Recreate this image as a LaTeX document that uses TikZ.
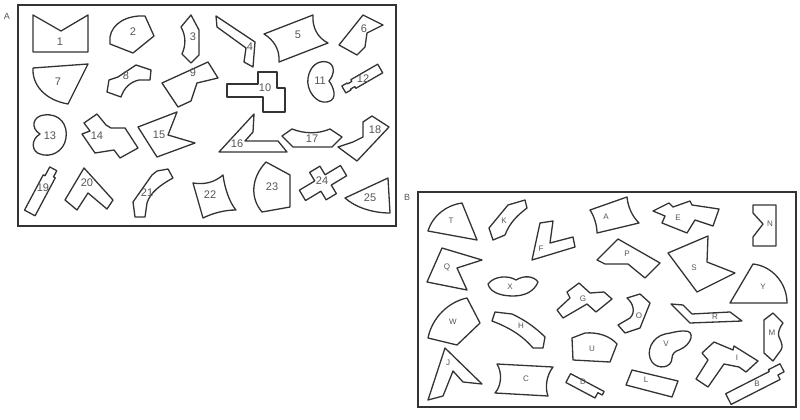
\documentclass[tikz,border=0pt]{standalone}
\usepackage{fontspec}
\setmainfont{Liberation Sans}
\definecolor{cInk}{HTML}{333333}
\definecolor{cLabel}{HTML}{555555}
\begin{document}
\begin{tikzpicture}[x=1pt,y=-1pt,
    frame/.style={draw=cInk,line width=2.2pt},
    piece/.style={draw=cInk,line width=1.3pt,line join=round},
    lbl/.style={inner sep=0pt,text=cLabel,font=\fontsize{11}{12}\selectfont},
    lblB/.style={inner sep=0pt,text=cLabel,font=\fontsize{8}{9}\selectfont},
    tag/.style={inner sep=0pt,text=cLabel,font=\fontsize{9}{10}\selectfont}]
  \useasboundingbox (0,0) rectangle (800,420);
  % set A
  \draw[frame] (18,5) rectangle (396,226);
  \node[tag] (tA) at (7,16) {A};
  \draw[piece] (33,15) -- (61,31) -- (88,15) -- (88,52) -- (33,52) -- cycle;
  \node[lbl] (n1) at (60,42) {1};
  \draw[piece] (110,44) -- (133,53) -- (154,36) -- (145,16) .. controls (126,15) and (112,24) .. (110,37) -- cycle;
  \node[lbl] (n2) at (133,32) {2};
  \draw[piece] (191,15) -- (199,30) -- (199,55) -- (191,63) -- (182,54) .. controls (186,45) and (186,36) .. (181,27) -- cycle;
  \node[lbl] (n3) at (193,37) {3};
  \draw[piece] (216,16) -- (255,42) -- (253,67) -- (244,62) -- (246,48) -- (217,27) -- cycle;
  \node[lbl] (n4) at (250,47) {4};
  \draw[piece] (264,34) -- (313,15) .. controls (312,28) and (318,38) .. (328,43) -- (279,62) .. controls (280,50) and (274,40) .. (264,34) -- cycle;
  \node[lbl] (n5) at (298,35) {5};
  \draw[piece] (363,15) -- (383,25) -- (367,33) -- (365,47) -- (357,55) -- (339,45) -- cycle;
  \node[lbl] (n6) at (364,29) {6};
  \draw[piece] (33,68) -- (88,64) -- (68,104) .. controls (45,100) and (32,85) .. (33,68) -- cycle;
  \node[lbl] (n7) at (58,82) {7};
  \draw[piece] (107,92) -- (109,80) -- (118,77) -- (136,65) -- (151,70) -- (150,80) -- (139,80) .. controls (130,82) and (124,88) .. (121,97) -- cycle;
  \node[lbl] (n8) at (126,76) {8};
  \draw[piece] (162,83) -- (208,62) -- (218,78) -- (197,83) -- (191,101) -- (178,107) -- cycle;
  \node[lbl] (n9) at (193,73) {9};
  \draw[piece] (227,84) -- (258,84) -- (258,72) -- (277,72) -- (277,88) -- (285,88) -- (285,112) -- (263,112) -- (263,97) -- (227,97) -- cycle;
  \node[lbl] (n10) at (265,88) {10};
  \draw[piece] (327,62) .. controls (335,64) and (335,74) .. (329,81) .. controls (333,86) and (339,100) .. (327,102) .. controls (316,104) and (306,90) .. (308,78) .. controls (310,66) and (318,60) .. (327,62) -- cycle;
  \node[lbl] (n11) at (320,81) {11};
  \begin{scope}[shift={(362,79)},rotate=30]
    \draw[piece] (-21,-4) -- (-15,-4) -- (-15,-3) -- (-10,-3) -- (-10,-5) -- (21,-5) -- (21,5) -- (-10,5) -- (-10,3) -- (-15,3) -- (-15,4) -- (-21,4) -- cycle;
  \end{scope}
  \node[lbl] (n12) at (363,79) {12};
  \draw[piece] (40,134) .. controls (30,128) and (33,116) .. (44,115) .. controls (60,113) and (68,125) .. (66,138) .. controls (64,152) and (50,158) .. (40,154) .. controls (32,152) and (30,140) .. (40,134) -- cycle;
  \node[lbl] (n13) at (50,136) {13};
  \draw[piece] (82,134) -- (90,131) -- (84,123) -- (97,114) -- (106,125) -- (111,128) -- (125,128) -- (138,148) -- (120,158) -- (114,150) -- (95,153) -- cycle;
  \node[lbl] (n14) at (97,136) {14};
  \draw[piece] (138,127) -- (177,112) -- (168,135) -- (195,143) -- (157,157) -- cycle;
  \node[lbl] (n15) at (159,135) {15};
  \draw[piece] (219,152) -- (254,114) -- (253,132) -- (245,141) -- (278,141) -- (287,152) -- cycle;
  \node[lbl] (n16) at (237,144) {16};
  \draw[piece] (282,136) -- (292,129) .. controls (305,134) and (318,134) .. (330,129) -- (342,137) -- (332,147) -- (293,147) -- cycle;
  \node[lbl] (n17) at (312,139) {17};
  \draw[piece] (338,147) -- (353,142) -- (363,137) -- (363,122) -- (372,116) -- (389,127) -- (357,161) -- cycle;
  \node[lbl] (n18) at (375,130) {18};
  \begin{scope}[shift={(42,190)},rotate=62]
    \draw[piece] (-26,-6) -- (14,-6) -- (14,-4) -- (24,-4) -- (24,4) -- (17,4) -- (17,6) -- (-26,6) -- cycle;
  \end{scope}
  \node[lbl] (n19) at (43,188) {19};
  \draw[piece] (65,200) -- (84,168) -- (113,200) -- (107,209) -- (88,193) -- (77,210) -- cycle;
  \node[lbl] (n20) at (87,183) {20};
  \draw[piece] (133,202) -- (152,175) -- (157,171) -- (168,169) -- (173,178) .. controls (160,185) and (150,193) .. (147,203) -- (145,217) -- (135,217) -- cycle;
  \node[lbl] (n21) at (147,193) {21};
  \draw[piece] (193,183) .. controls (205,185) and (215,182) .. (223,175) .. controls (225,190) and (230,203) .. (236,210) .. controls (225,210) and (213,213) .. (203,218) -- cycle;
  \node[lbl] (n22) at (210,195) {22};
  \draw[piece] (266,162) -- (290,175) -- (290,207) -- (262,212) .. controls (250,198) and (251,178) .. (266,162) -- cycle;
  \node[lbl] (n23) at (272,187) {23};
  \begin{scope}[shift={(323,183)},rotate=31]
    \draw[piece] (-24,-6) -- (-6,-6) -- (-6,-16) -- (6,-16) -- (6,-6) -- (24,-6) -- (24,6) -- (6,6) -- (6,16) -- (-6,16) -- (-6,6) -- (-24,6) -- cycle;
  \end{scope}
  \node[lbl] (n24) at (322,181) {24};
  \draw[piece] (345,198) -- (388,178) -- (390,213) .. controls (372,213) and (355,207) .. (345,198) -- cycle;
  \node[lbl] (n25) at (370,198) {25};
  % set B
  \draw[frame] (418,192) rectangle (796,407);
  \node[tag] (tB) at (407,197) {B};
  \draw[piece] (428,231) .. controls (433,215) and (447,205) .. (462,203) -- (477,240) -- cycle;
  \node[lblB] (nT) at (451,221) {T};
  \draw[piece] (493,240) -- (489,228) -- (508,205) -- (525,200) -- (527,208) .. controls (518,215) and (510,222) .. (505,235) -- cycle;
  \node[lblB] (nK) at (504,221) {K};
  \draw[piece] (532,260) -- (540,223) -- (553,221) -- (550,243) -- (573,237) -- (575,247) -- cycle;
  \node[lblB] (nF) at (541,249) {F};
  \draw[piece] (590,210) -- (627,197) .. controls (628,208) and (633,217) .. (639,223) -- (597,233) .. controls (597,225) and (594,216) .. (590,210) -- cycle;
  \node[lblB] (nA) at (606,217) {A};
  \draw[piece] (653,211) -- (669,203) -- (673,207) -- (690,201) -- (692,205) -- (719,209) -- (713,226) -- (695,220) -- (687,233) -- (662,223) -- (665,216) -- cycle;
  \node[lblB] (nE) at (678,218) {E};
  \draw[piece] (753,205) -- (776,205) -- (776,246) -- (753,246) -- (753,237) -- (763,224) -- (753,213) -- cycle;
  \node[lblB] (nN) at (770,224) {N};
  \draw[piece] (427,282) -- (442,248) -- (482,260) -- (457,268) -- (467,290) -- cycle;
  \node[lblB] (nQ) at (447,267) {Q};
  \draw[piece] (488,284) .. controls (494,276) and (508,275) .. (516,280) .. controls (524,275) and (534,276) .. (538,282) .. controls (534,292) and (524,296) .. (513,296) .. controls (500,296) and (490,292) .. (488,284) -- cycle;
  \node[lblB] (nX) at (510,287) {X};
  \draw[piece] (597,260) -- (618,239) -- (660,263) -- (645,278) -- (628,264) -- (605,264) -- cycle;
  \node[lblB] (nP) at (627,254) {P};
  \draw[piece] (668,253) -- (708,236) -- (707,262) -- (735,273) -- (697,292) -- cycle;
  \node[lblB] (nS) at (694,268) {S};
  \draw[piece] (730,303) -- (753,264) .. controls (772,266) and (787,283) .. (787,303) -- cycle;
  \node[lblB] (nY) at (763,287) {Y};
  \draw[piece] (557,310) -- (570,298) -- (567,292) -- (579,283) -- (590,293) -- (604,292) -- (612,299) -- (596,312) -- (587,304) -- (563,318) -- cycle;
  \node[lblB] (nG) at (583,299) {G};
  \draw[piece] (627,298) -- (640,294) -- (650,303) -- (640,328) -- (625,333) -- (618,325) -- (630,318) .. controls (636,312) and (633,303) .. (627,298) -- cycle;
  \node[lblB] (nO) at (639,316) {O};
  \draw[piece] (492,321) -- (495,312) -- (512,314) .. controls (525,320) and (536,328) .. (545,337) -- (543,348) -- (533,348) .. controls (522,335) and (508,327) .. (492,321) -- cycle;
  \node[lblB] (nH) at (521,326) {H};
  \draw[piece] (572,338) -- (585,333) .. controls (598,332) and (610,336) .. (617,344) -- (610,362) -- (573,360) -- cycle;
  \node[lblB] (nU) at (592,349) {U};
  \draw[piece] (679,350) .. controls (692,345) and (696,330) .. (684,331) .. controls (676,331) and (672,333) .. (665,334) .. controls (652,337) and (645,352) .. (652,362) .. controls (658,370) and (672,368) .. (672,358) .. controls (672,354) and (675,351) .. (679,350) -- cycle;
  \node[lblB] (nV) at (666,344) {V};
  \draw[piece] (671,304) -- (683,305) -- (692,314) -- (730,312) -- (742,321) -- (690,323) -- cycle;
  \node[lblB] (nR) at (715,317) {R};
  \draw[piece] (764,320) -- (773,313) -- (783,323) .. controls (778,330) and (778,334) .. (779,337) .. controls (782,343) and (783,347) .. (781,350) -- (773,361) -- (764,353) -- cycle;
  \node[lblB] (nM) at (772,333) {M};
  \draw[piece] (428,338) .. controls (432,318) and (448,302) .. (467,298) -- (480,323) -- (457,345) -- cycle;
  \node[lblB] (nW) at (453,322) {W};
  \draw[piece] (428,400) -- (445,348) -- (482,384) -- (463,382) -- (453,371) -- (443,396) -- cycle;
  \node[lblB] (nJ) at (448,363) {J};
  \draw[piece] (497,364) -- (553,367) .. controls (546,376) and (545,388) .. (548,396) -- (495,393) .. controls (502,385) and (502,372) .. (497,364) -- cycle;
  \node[lblB] (nC) at (526,379) {C};
  \begin{scope}[shift={(585,387)},rotate=-28]
    \draw[piece] (-19,-5) -- (19,-5) -- (19,-1) -- (14,-1) -- (14,5) -- (-19,5) -- cycle;
  \end{scope}
  \node[lblB] (nD) at (583,382) {D};
  \draw[piece] (626,385) -- (632,370) -- (678,381) -- (672,397) -- cycle;
  \node[lblB] (nL) at (646,380) {L};
  \draw[piece] (702,353) -- (714,342) -- (733,350) -- (734,346) -- (758,361) -- (746,372) -- (739,367) -- (724,364) -- (708,387) -- (696,379) -- (708,360) -- cycle;
  \node[lblB] (nI) at (737,358) {I};
  \begin{scope}[shift={(756,385)},rotate=27]
    \draw[piece] (-31,-6) -- (18,-6) -- (18,-8) -- (31,-8) -- (31,1) -- (24,1) -- (24,6) -- (-31,6) -- cycle;
  \end{scope}
  \node[lblB] (nB) at (757,384) {B};
\end{tikzpicture}
\end{document}
